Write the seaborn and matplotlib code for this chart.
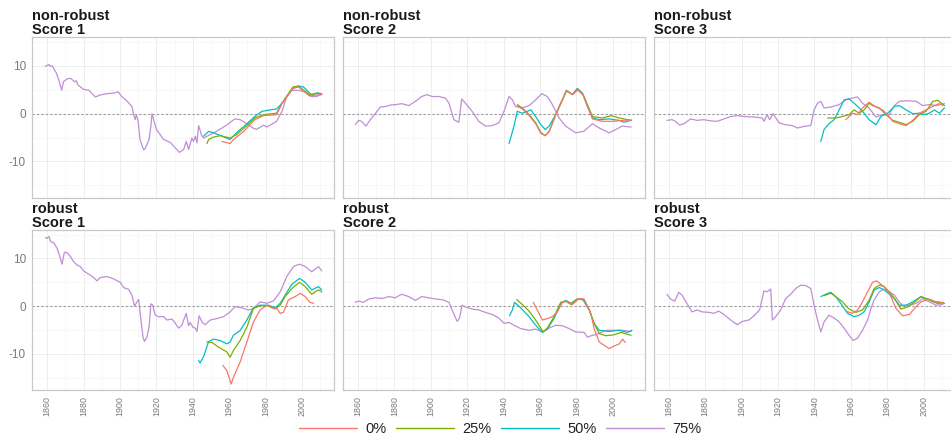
import numpy as np
import pandas as pd
import matplotlib
matplotlib.use("Agg")
import matplotlib.pyplot as plt
from matplotlib.ticker import MultipleLocator, FixedLocator
from matplotlib.lines import Line2D
import seaborn as sns

# ---------------------------------------------------------------- data
quantiles = ["0%", "25%", "50%", "75%"]
palette = {"0%": "#F8766D", "25%": "#7CAE00", "50%": "#00BFC4", "75%": "#C08ED6"}
row_labels = ["non-robust", "robust"]
score_labels = ["Score 1", "Score 2", "Score 3"]
x_ticks = [1860, 1880, 1900, 1920, 1940, 1960, 1980, 2000]

# non-robust, Score 1
nr1_q75_yr = [1859, 1861, 1862, 1863, 1864, 1865, 1866.4, 1868, 1869, 1871, 1873, 1875, 1876, 1877, 1880,
              1883, 1886.5, 1889, 1893, 1896, 1897.5, 1899, 1901, 1904, 1906.6, 1907.5, 1908.4, 1909, 1910,
              1911, 1913, 1914, 1916, 1917, 1917.6, 1918.5, 1920, 1924, 1927.6, 1929.5, 1932.6, 1935,
              1936.4, 1937.7, 1939.5, 1940.4, 1941.4, 1942.3, 1943.2, 1945, 1946, 1953, 1959, 1963, 1966,
              1969.7, 1973, 1975, 1979, 1980.6, 1983, 1986, 1989, 1991.6, 1994.4, 1998, 2001.7, 2005, 2008,
              2010.8]
nr1_q75_val = [9.9, 10.3, 9.9, 10.0, 9.2, 8.6, 7.1, 4.9, 6.7, 7.3, 7.4, 6.7, 6.9, 6.0, 5.1,
               4.9, 3.5, 3.9, 4.2, 4.3, 4.4, 4.6, 3.6, 2.6, 1.5, -0.2, -1.25, -0.2, -1.6,
               -5.4, -7.6, -7.2, -5.4, -2.6, 0.0, -1.25, -3.3, -5.4, -6.0, -6.8, -8.1, -7.5,
               -5.8, -7.5, -5.1, -5.8, -4.7, -6.1, -2.5, -4.7, -5.1, -3.7, -2.3, -1.1, -1.25,
               -2.1, -3.0, -3.3, -2.4, -2.8, -2.3, -1.6, 0.5, 3.6, 4.9, 4.9, 4.6, 3.6, 3.6,
               4.1]
nr1_q50_yr = [1946, 1948.7, 1951.4, 1956, 1960.5, 1964, 1969.7, 1974, 1978, 1982.5, 1986, 1989, 1991.6,
              1995, 1998, 2000.8, 2005, 2008.8, 2010.8]
nr1_q50_val = [-4.7, -3.7, -4.0, -4.7, -5.4, -4.0, -2.1, -0.6, 0.5, 0.8, 1.0, 2.2, 3.6,
               5.3, 5.8, 5.6, 4.0, 4.4, 4.0]
nr1_q25_yr = [1947.8, 1948.7, 1951.4, 1955, 1960.5, 1964, 1969.7, 1974, 1979, 1986, 1989, 1995, 1998,
              2004, 2008, 2010.8]
nr1_q25_val = [-6.25, -5.4, -4.9, -4.6, -5.1, -4.4, -2.5, -0.9, -0.2, 0.1, 2.2, 5.6, 5.8,
               4.0, 4.2, 4.2]
nr1_q0_yr = [1956, 1960.5, 1962.4, 1968, 1974, 1979, 1986, 1989, 1995, 1998, 2004, 2010.8]
nr1_q0_val = [-5.8, -6.25, -5.4, -3.7, -1.25, -0.4, -0.2, 2.1, 5.3, 5.6, 3.75, 4.0]

# non-robust, Score 2
nr2_q75_yr = [1858.5, 1860.4, 1862, 1864.4, 1866.8, 1869.5, 1872.3, 1875, 1877.8, 1880.5, 1884, 1888,
              1891.6, 1895, 1898, 1900.7, 1904.4, 1908, 1910, 1912.7, 1915.4, 1917, 1919, 1922.7, 1926.4,
              1930, 1933.8, 1937.4, 1940.2, 1943, 1944.8, 1946.6, 1950, 1954, 1957.6, 1961, 1964, 1966.8,
              1970.5, 1974, 1979.6, 1984, 1988.8, 1992.5, 1998, 2001.7, 2005, 2010]
nr2_q75_val = [-2.3, -1.4, -1.6, -2.6, -1.25, 0.0, 1.4, 1.5, 1.8, 1.9, 2.1, 1.7,
               2.6, 3.6, 4.0, 3.6, 3.6, 3.3, 2.2, -1.25, -1.8, 3.1, 2.2, 0.5, -1.6,
               -2.6, -2.5, -1.9, 0.5, 3.6, 2.9, 1.5, 1.2, 1.7, 2.9, 4.2, 3.6, 1.9,
               -0.9, -2.6, -4.0, -3.7, -2.1, -3.0, -4.0, -3.3, -2.6, -2.8]
nr2_q50_yr = [1943, 1945.7, 1947.5, 1950.3, 1955, 1957.6, 1960.4, 1962.8, 1965, 1968.6, 1971.4, 1974.5,
              1977.8, 1980.5, 1983.3, 1986, 1988.8, 1992.5, 1998, 2003.5, 2006, 2010]
nr2_q50_val = [-6.25, -2.6, 0.5, 0.1, 0.8, -0.6, -2.3, -3.3, -2.6, -0.2, 2.2, 4.7,
               4.1, 5.3, 4.3, 1.5, -0.9, -1.25, -1.1, -1.4, -1.8, -1.4]
nr2_q25_yr = [1947.5, 1950.3, 1954, 1957.6, 1960.4, 1962.8, 1965, 1968.6, 1971.4, 1974.5, 1977.8, 1981,
              1983.7, 1988.8, 1994.3, 1999, 2003.5, 2010]
nr2_q25_val = [1.9, 1.2, -0.2, -1.9, -3.9, -4.6, -3.7, -0.2, 2.2, 4.9, 4.0, 5.1,
               4.0, -0.6, -0.9, -0.4, -0.9, -1.4]
nr2_q0_yr = [1947.5, 1950.3, 1954, 1957.6, 1960.4, 1962.8, 1965, 1968.6, 1971.4, 1974.5, 1977.8, 1980.5,
             1983.7, 1988.8, 1994.3, 2000, 2005, 2010]
nr2_q0_val = [1.7, 1.0, -0.4, -2.1, -4.1, -4.6, -3.8, -0.3, 2.1, 4.9, 4.0, 5.0,
              3.9, -1.1, -1.6, -1.6, -1.4, -1.3]

# non-robust, Score 3
nr3_q75_yr = [1859, 1861.8, 1863.7, 1865.9, 1868.3, 1872, 1875.6, 1879.3, 1883, 1886.6, 1890.3, 1894,
              1897.6, 1902, 1906.8, 1911.4, 1912.3, 1914, 1915.4, 1917.2, 1920.6, 1924, 1928, 1930.6,
              1935, 1938, 1939.8, 1941.7, 1943.5, 1945.3, 1949, 1953.6, 1957.2, 1961, 1963.7, 1966.4,
              1970, 1973.8, 1977.4, 1981, 1983.9, 1986.6, 1990.3, 1995.8, 1999.4, 2003, 2006.8, 2011.4]
nr3_q75_val = [-1.4, -1.25, -1.6, -2.4, -2.1, -1.1, -1.4, -1.25, -1.5, -1.6, -1.1, -0.6,
               -0.4, -0.6, -0.7, -0.9, -1.6, -0.2, -1.25, 0.0, -1.9, -2.3, -2.5, -3.0,
               -2.6, -2.5, 0.8, 2.2, 2.6, 1.2, 1.4, 1.9, 2.9, 3.3, 3.5, 2.2,
               1.2, -0.7, -0.2, -0.2, 1.7, 2.6, 2.7, 2.6, 1.7, 1.9, 1.7, 2.1]
nr3_q50_yr = [1943.5, 1945.3, 1948, 1950.8, 1953.6, 1956.3, 1959, 1961.8, 1964.6, 1967.3, 1970, 1973.8,
              1976.5, 1980.2, 1983.9, 1986.6, 1990.3, 1994, 1997.6, 2000.4, 2003, 2005.9, 2008.6, 2011.4]
nr3_q50_val = [-5.8, -3.3, -2.1, -1.25, 0.8, 2.9, 3.1, 2.2, 1.2, 0.1, -1.25, -2.3,
               -0.6, 0.1, 1.5, 1.7, 0.8, 0.0, 0.1, -0.2, 0.1, 0.8, 0.1, 1.2]
nr3_q25_yr = [1947.2, 1951.7, 1955.4, 1959, 1961.8, 1964.6, 1967.3, 1970, 1971.9, 1975.6, 1979.3, 1983,
              1986.6, 1990.3, 1994, 1997.6, 2001.3, 2005, 2007.7, 2011.4]
nr3_q25_val = [-0.9, -0.9, -0.6, -0.2, 0.8, 0.1, 0.8, 2.2, 1.7, 1.2, -0.2, -1.4,
               -1.8, -2.3, -1.6, -0.2, 0.5, 2.6, 2.8, 1.7]
nr3_q0_yr = [1957.2, 1961, 1963.7, 1966.4, 1970, 1973.8, 1977.4, 1980.2, 1983, 1986.6, 1990.3, 1994,
             1997.6, 2001.3, 2005.9, 2008.6, 2010.8]
nr3_q0_val = [-1.25, 0.1, -0.2, 1.2, 2.4, 1.4, 0.8, -0.2, -1.6, -2.1, -2.5, -1.4,
              0.1, 0.8, 1.7, 2.1, 1.7]

# robust, Score 1
r1_q75_yr = [1859, 1860, 1861, 1862, 1863.7, 1865.5, 1867, 1868.2, 1869.5, 1871, 1872.8, 1874.6, 1876.5,
             1878.3, 1880, 1882.8, 1885.6, 1887.4, 1889.2, 1893, 1896.6, 1900.2, 1902, 1904.8, 1906.6,
             1908, 1909.4, 1910.3, 1911.2, 1912.7, 1913.4, 1914.8, 1916, 1917, 1918, 1919.4, 1921.2, 1924,
             1925.8, 1928.6, 1930.4, 1932.2, 1934, 1935.3, 1936.4, 1937.7, 1938.6, 1940, 1941.4, 1942.3,
             1943.5, 1945, 1946.8, 1949.6, 1953.2, 1956.9, 1960.5, 1963.3, 1967, 1970.6, 1973.3, 1977,
             1980.7, 1984.3, 1988, 1991.6, 1995.3, 1998.6, 2001.7, 2005.3, 2009, 2010.8]
r1_q75_val = [14.4, 14.2, 14.6, 13.5, 13.3, 12.1, 10.4, 8.8, 11.3, 11.2, 10.4, 9.3, 8.6,
              8.3, 7.4, 6.7, 6.0, 5.3, 6.0, 6.2, 5.7, 5.0, 3.9, 3.5, 2.3,
              0.0, 0.9, 1.4, -1.9, -6.5, -7.4, -6.5, -4.4, 0.5, 0.2, -1.9, -2.2, -2.2,
              -2.9, -2.7, -3.6, -4.6, -4.0, -2.6, -1.5, -4.1, -3.4, -4.4, -4.6, -5.3,
              -2.0, -3.3, -3.9, -2.9, -2.6, -2.2, -1.2, -0.1, -0.35, -0.8, -0.5, 0.9,
              0.6, 1.1, 3.0, 6.2, 8.3, 8.8, 8.3, 7.2, 8.3, 7.4]
r1_q50_yr = [1943.2, 1944, 1946, 1948.7, 1951.4, 1955, 1958.7, 1960.5, 1962.3, 1966, 1969.7, 1973.3, 1977,
             1981.6, 1985.2, 1988, 1990.7, 1994.4, 1998.6, 2001.7, 2005.3, 2009, 2010.8]
r1_q50_val = [-11.4, -11.9, -10.5, -7.4, -6.9, -7.2, -7.9, -7.5, -6.1, -5.1, -2.9, -0.35, 0.2,
              0.2, -0.35, 0.6, 2.3, 4.6, 5.8, 5.0, 3.4, 4.1, 3.4]
r1_q25_yr = [1947.8, 1950.5, 1954.2, 1958.7, 1960.5, 1962.3, 1966, 1969.7, 1973.3, 1977, 1981.6, 1985.2,
             1988, 1990.7, 1994.4, 1998.6, 2001.7, 2005.3, 2009, 2010.8]
r1_q25_val = [-7.5, -7.6, -8.6, -9.6, -10.7, -9.3, -7.2, -4.4, -0.5, 0.1, 0.1, -0.6,
              0.2, 2.0, 3.7, 5.0, 4.1, 2.5, 3.4, 3.0]
r1_q0_yr = [1956.5, 1958.7, 1961.1, 1962.3, 1966, 1969.7, 1973.3, 1977, 1980.7, 1983.4, 1986.1, 1988,
            1989.8, 1992.5, 1996.2, 1999, 2001.7, 2004.4, 2006.3]
r1_q0_val = [-12.4, -13.5, -16.3, -14.9, -11.7, -7.5, -3.3, -0.8, 0.2, -0.35, -0.5, -1.5,
             -1.3, 1.3, 2.0, 2.7, 2.0, 0.8, 0.6]

# robust, Score 2
r2_q75_yr = [1858.5, 1860.4, 1863, 1866, 1869.5, 1873.2, 1877, 1880.5, 1884, 1888, 1891.6, 1895, 1899,
             1902.6, 1907, 1910, 1912, 1914.5, 1915.8, 1917.2, 1919, 1922.7, 1926.4, 1930, 1933.8,
             1937.4, 1940.2, 1943, 1945.7, 1949.4, 1954, 1957.6, 1961.3, 1965, 1968.6, 1972.3, 1976,
             1979.6, 1984.2, 1986, 1988.8, 1990.6, 1993.4, 1997, 2001.7, 2005.3, 2010]
r2_q75_val = [0.8, 1.05, 0.8, 1.5, 1.75, 1.6, 2.0, 1.75, 2.5, 2.0, 1.2, 2.0, 1.75,
              1.5, 1.3, 0.8, -1.05, -3.2, -2.5, 0.2, -0.15, -0.6, -0.8, -1.3, -1.75,
              -2.5, -3.6, -3.4, -4.0, -4.7, -5.05, -4.8, -5.4, -4.6, -4.0, -4.1, -4.7,
              -5.4, -5.5, -6.5, -6.1, -6.0, -5.5, -5.05, -5.05, -5.05, -5.3]
r2_q50_yr = [1943.3, 1944.8, 1946, 1949.4, 1954, 1957.6, 1961.3, 1964, 1967.7, 1971.4, 1974, 1976.9,
             1980.5, 1983.3, 1987, 1989.7, 1992.5, 1998, 2003.5, 2008, 2010.5]
r2_q50_val = [-2.0, -0.8, 0.8, -0.35, -2.2, -4.0, -5.5, -4.8, -2.6, 0.6, 1.2, 0.6,
              1.5, 1.5, -0.8, -3.6, -5.05, -5.3, -5.05, -5.5, -5.05]
r2_q25_yr = [1947.2, 1950.3, 1954, 1957.6, 1961.7, 1964, 1967.7, 1971.4, 1974, 1976.9, 1980.5, 1984.2,
             1987, 1989.7, 1992.5, 1996.2, 2000.7, 2004.4, 2009, 2010]
r2_q25_val = [1.4, 0.35, -1.05, -2.9, -5.4, -4.6, -2.2, 0.8, 1.05, 0.35, 1.5, 1.3,
              -0.8, -3.6, -5.75, -6.2, -6.0, -5.5, -6.0, -6.1]
r2_q0_yr = [1956.3, 1958.5, 1961.3, 1964, 1966.8, 1969.5, 1972.3, 1975, 1977.8, 1981.5, 1984.2, 1987.9,
            1989.7, 1992.5, 1995.2, 1998, 2000.7, 2003.5, 2005.3, 2006.8]
r2_q0_val = [0.8, -0.8, -2.9, -2.6, -2.2, -1.2, 0.8, 1.05, 0.35, 1.6, 1.5, -1.5,
             -4.7, -7.5, -8.2, -8.9, -8.35, -7.9, -6.9, -7.6]

# robust, Score 3
r3_q75_yr = [1859, 1861, 1863.3, 1865.5, 1867.3, 1870, 1872.8, 1875.6, 1878.3, 1882, 1884.8, 1887.5,
             1890.3, 1894, 1897.6, 1900.4, 1904, 1906.8, 1909.9, 1912.3, 1914.1, 1916, 1916.9, 1918.7,
             1921.5, 1924.2, 1927, 1929.7, 1932.5, 1935.2, 1938, 1939.8, 1941.7, 1943.5, 1945.3, 1948,
             1950.8, 1953.6, 1956.3, 1959, 1961.3, 1963.7, 1966.4, 1969.2, 1971, 1972.8, 1975.6, 1978.3,
             1981.1, 1983.9, 1986.6, 1988.4, 1992.1, 1995.8, 1999.4, 2003, 2006.8, 2010.5]
r3_q75_val = [2.5, 1.5, 1.05, 2.9, 2.3, 0.55, -1.2, -0.8, -1.2, -1.3, -1.5, -1.05,
              -1.75, -2.9, -3.9, -3.2, -2.9, -2.0, -0.8, 3.2, 3.0, 3.6, -2.9, -2.2,
              -0.8, 1.6, 2.5, 3.7, 4.4, 4.3, 3.7, 0.2, -2.9, -5.4, -3.3, -1.9,
              -2.5, -3.3, -4.6, -6.1, -7.2, -6.7, -5.05, -2.9, -0.5, 1.3, 3.0, 3.6,
              3.0, 2.3, 0.9, 0.1, 0.2, 0.55, 1.6, 0.9, 0.2, 0.35]
r3_q50_yr = [1943.5, 1946.2, 1949, 1951.7, 1954.5, 1958.2, 1961.8, 1964.6, 1967.3, 1970.1, 1972.8, 1975.6,
             1978.3, 1981.1, 1983.9, 1986.6, 1990.3, 1994, 1998.5, 2002.2, 2005.9, 2008.6, 2011.4]
r3_q50_val = [2.0, 2.5, 2.9, 2.0, 0.55, -1.5, -2.2, -1.9, -1.2, 0.9, 3.4, 3.9,
              3.4, 2.5, 1.6, 0.2, 0.2, 0.9, 2.0, 1.5, 0.8, 0.9, 0.55]
r3_q25_yr = [1945.3, 1949, 1951.7, 1955.4, 1959, 1962.8, 1966.4, 1970.1, 1972.8, 1975.6, 1978.3, 1981.1,
             1983.9, 1987.5, 1991.2, 1994.9, 1998.5, 2003, 2007.7, 2010.8]
r3_q25_val = [2.2, 2.7, 2.0, 0.9, -0.6, -1.3, -0.8, 1.3, 3.7, 4.4, 4.1, 3.0,
              1.6, -0.6, -0.15, 0.8, 2.0, 1.3, 0.55, 0.8]
r3_q0_yr = [1957.2, 1960.9, 1963.7, 1966.4, 1969.2, 1971.9, 1974.1, 1976.5, 1979.3, 1982, 1984.8, 1988.4,
            1992.1, 1994.9, 1998.5, 2003, 2006.8, 2010.8]
r3_q0_val = [-1.05, -1.5, -0.8, 0.9, 3.0, 5.0, 5.3, 4.6, 3.7, 2.0, -0.5, -2.0,
             -1.75, -0.5, 0.9, 1.5, 0.9, 0.55]

panels = {
    (0, 0): [(nr1_q0_yr, nr1_q0_val), (nr1_q25_yr, nr1_q25_val), (nr1_q50_yr, nr1_q50_val), (nr1_q75_yr, nr1_q75_val)],
    (0, 1): [(nr2_q0_yr, nr2_q0_val), (nr2_q25_yr, nr2_q25_val), (nr2_q50_yr, nr2_q50_val), (nr2_q75_yr, nr2_q75_val)],
    (0, 2): [(nr3_q0_yr, nr3_q0_val), (nr3_q25_yr, nr3_q25_val), (nr3_q50_yr, nr3_q50_val), (nr3_q75_yr, nr3_q75_val)],
    (1, 0): [(r1_q0_yr, r1_q0_val), (r1_q25_yr, r1_q25_val), (r1_q50_yr, r1_q50_val), (r1_q75_yr, r1_q75_val)],
    (1, 1): [(r2_q0_yr, r2_q0_val), (r2_q25_yr, r2_q25_val), (r2_q50_yr, r2_q50_val), (r2_q75_yr, r2_q75_val)],
    (1, 2): [(r3_q0_yr, r3_q0_val), (r3_q25_yr, r3_q25_val), (r3_q50_yr, r3_q50_val), (r3_q75_yr, r3_q75_val)],
}

# ---------------------------------------------------------------- styling
sns.set_theme(style="white")
plt.rcParams["font.family"] = ["Liberation Sans", "DejaVu Sans"]
plt.rcParams["axes.unicode_minus"] = False

fig, axes = plt.subplots(2, 3, figsize=(9.51, 4.34), dpi=100, sharex=True, sharey=True)
fig.subplots_adjust(left=0.034, right=1.005, top=0.914, bottom=0.101, wspace=0.03, hspace=0.20)

for (r, c), series in panels.items():
    ax = axes[r, c]
    frames = []
    for q, (yrs, vals) in zip(quantiles, series):
        frames.append(pd.DataFrame({"year": yrs, "value": vals, "quantile": q}))
    df = pd.concat(frames, ignore_index=True)

    ax.axhline(0, color="#9a9a9a", lw=0.8, ls=(0, (2, 2)), zorder=1)
    sns.lineplot(data=df, x="year", y="value", hue="quantile", hue_order=quantiles[::-1],
                 palette=palette, estimator=None, sort=True, lw=0.9, ax=ax, legend=False, zorder=3)

    ax.set_xlim(1851.9, 2017.6)
    ax.set_ylim(-17.6, 16.0)
    ax.xaxis.set_major_locator(FixedLocator(x_ticks))
    ax.xaxis.set_minor_locator(MultipleLocator(10))
    ax.yaxis.set_major_locator(FixedLocator([-10, 0, 10]))
    ax.yaxis.set_minor_locator(MultipleLocator(5))
    ax.grid(which="major", color="#ebebeb", lw=0.6)
    ax.grid(which="minor", color="#f3f3f3", lw=0.4)
    ax.set_axisbelow(True)
    for sp in ax.spines.values():
        sp.set_color("#c8c8c8")
        sp.set_linewidth(0.9)
    ax.set_xlabel("")
    ax.set_ylabel("")
    ax.tick_params(axis="both", which="major", length=2.5, width=0.6, color="#b3b3b3",
                   labelcolor="#7a7a7a", pad=2)
    ax.tick_params(axis="y", labelsize=8.5)
    ax.tick_params(axis="x", labelsize=6.4, labelrotation=90)
    ax.tick_params(axis="both", which="minor", length=0)
    if c != 0:
        ax.tick_params(axis="y", left=False)
    if r == 0:
        ax.tick_params(axis="x", bottom=False)
    ax.set_title(f"{row_labels[r]}\n{score_labels[c]}", loc="left", fontsize=10.5,
                 fontweight="bold", color="#1a1a1a", pad=2, linespacing=1.0)

handles = [Line2D([0], [0], color=palette[q], lw=1.0) for q in quantiles]
fig.legend(handles, quantiles, loc="center", bbox_to_anchor=(0.526, 0.012), ncol=4, frameon=False,
           handlelength=4.0, handletextpad=0.6, columnspacing=0.6, fontsize=10.5,
           labelcolor="#222222")

fig.savefig("out.png", dpi=100)
